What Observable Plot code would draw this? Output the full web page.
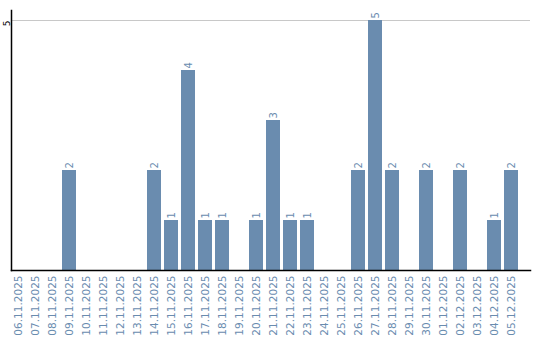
<!DOCTYPE html>
<html>
<head>
<meta charset="utf-8">
<script src="https://cdn.jsdelivr.net/npm/d3@7"></script>
<script src="https://cdn.jsdelivr.net/npm/@observablehq/plot@0.6"></script>
<style>
  html, body { margin: 0; padding: 0; background: #fff; }
  #chart svg { display: block; }
</style>
</head>
<body>
<div id="chart"></div>
<script>
const dates = ["06.11.2025","07.11.2025","08.11.2025","09.11.2025","10.11.2025","11.11.2025","12.11.2025","13.11.2025","14.11.2025","15.11.2025","16.11.2025","17.11.2025","18.11.2025","19.11.2025","20.11.2025","21.11.2025","22.11.2025","23.11.2025","24.11.2025","25.11.2025","26.11.2025","27.11.2025","28.11.2025","29.11.2025","30.11.2025","01.12.2025","02.12.2025","03.12.2025","04.12.2025","05.12.2025"];
const counts = [0,0,0,2,0,0,0,0,2,1,4,1,1,0,1,3,1,1,0,0,2,5,2,0,2,0,2,0,1,2];
const yTicks = [5];

const data = dates.map((d, i) => ({date: d, value: counts[i]}));
const barColor = "#6a8caf";

const chart = Plot.plot({
  width: 540,
  height: 340,
  marginLeft: 11,
  marginRight: 10,
  marginTop: 10,
  marginBottom: 70,
  style: {fontFamily: "DejaVu Sans", fontSize: "10px", background: "#fff"},
  x: {type: "band", domain: dates, paddingInner: 0.18, paddingOuter: 0, range: [11, 518], axis: null},
  y: {domain: [0, 5.2], axis: null},
  marks: [
    Plot.ruleY(yTicks, {stroke: "#c8c8c8", strokeWidth: 1}),
    Plot.barY(data, {x: "date", y: "value", fill: barColor}),
    Plot.text(data.filter(d => d.value > 0), {x: "date", y: "value", text: d => String(d.value), rotate: -90, textAnchor: "start", dy: -2, fill: barColor, fontSize: 10}),
    Plot.axisX({tickRotate: -90, tickSize: 0, tickPadding: 5, fill: barColor, fontSize: 10.5, label: null}),
    Plot.axisY({ticks: yTicks, tickFormat: "d", tickRotate: -90, textAnchor: "end", tickSize: 0, tickPadding: 2, fill: "#000", fontSize: 9, label: null}),
    Plot.frame({anchor: "left", stroke: "#000", strokeWidth: 1.5}),
    Plot.frame({anchor: "bottom", stroke: "#000", strokeWidth: 1.5})
  ]
});
document.getElementById("chart").appendChild(chart);
</script>
</body>
</html>
